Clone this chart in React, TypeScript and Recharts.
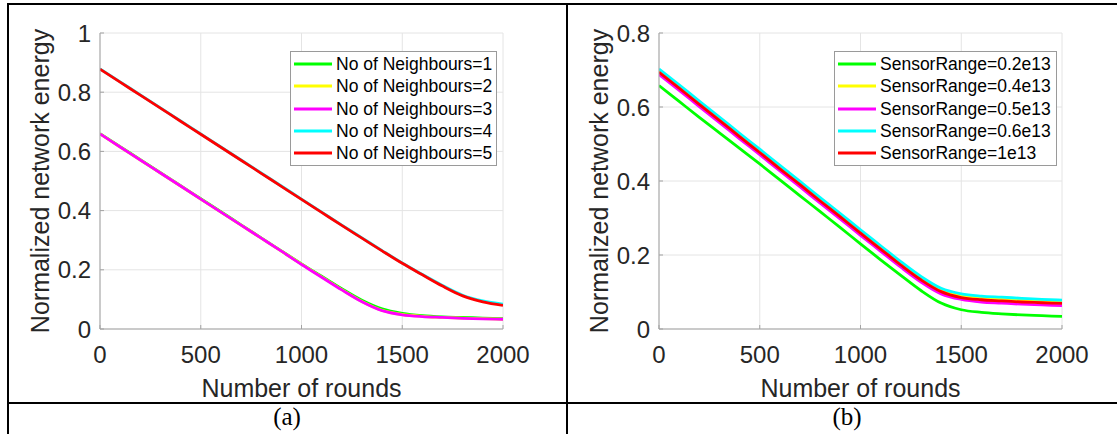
import React from 'react';
import { LineChart, Line, XAxis, YAxis, CartesianGrid, Legend } from 'recharts';

const rounds = [0, 100, 200, 300, 400, 500, 600, 700, 800, 900, 1000, 1100, 1200, 1300, 1400, 1500, 1600, 1700, 1800, 1900, 2000];
const xTicks = [0, 500, 1000, 1500, 2000];
const yTicksA = [0, 0.2, 0.4, 0.6, 0.8, 1];
const yTicksB = [0, 0.2, 0.4, 0.6, 0.8];

// Panel (a): number of neighbours
const namesA = ['No of Neighbours=1', 'No of Neighbours=2', 'No of Neighbours=3', 'No of Neighbours=4', 'No of Neighbours=5'];
const nb1 = [0.660, 0.616, 0.572, 0.528, 0.484, 0.440, 0.396, 0.352, 0.308, 0.264, 0.220, 0.178, 0.136, 0.097, 0.068, 0.053, 0.045, 0.041, 0.039, 0.037, 0.035];
const nb2 = [0.659, 0.615, 0.571, 0.527, 0.483, 0.439, 0.395, 0.351, 0.307, 0.263, 0.219, 0.176, 0.133, 0.093, 0.063, 0.049, 0.043, 0.039, 0.037, 0.035, 0.033];
const nb3 = [0.659, 0.615, 0.571, 0.527, 0.483, 0.439, 0.395, 0.351, 0.307, 0.263, 0.218, 0.175, 0.132, 0.092, 0.062, 0.048, 0.042, 0.039, 0.036, 0.034, 0.033];
const nb4 = [0.879, 0.835, 0.791, 0.747, 0.703, 0.659, 0.615, 0.571, 0.527, 0.483, 0.439, 0.395, 0.351, 0.308, 0.265, 0.223, 0.184, 0.147, 0.114, 0.095, 0.084];
const nb5 = [0.878, 0.834, 0.790, 0.746, 0.702, 0.658, 0.614, 0.570, 0.526, 0.482, 0.438, 0.394, 0.350, 0.307, 0.264, 0.222, 0.183, 0.145, 0.112, 0.092, 0.080];

// Panel (b): sensor range
const namesB = ['SensorRange=0.2e13', 'SensorRange=0.4e13', 'SensorRange=0.5e13', 'SensorRange=0.6e13', 'SensorRange=1e13'];
const sr02 = [0.658, 0.615, 0.572, 0.530, 0.488, 0.446, 0.403, 0.360, 0.317, 0.274, 0.230, 0.187, 0.145, 0.104, 0.070, 0.052, 0.045, 0.041, 0.038, 0.036, 0.034];
const sr04 = [0.699, 0.656, 0.612, 0.569, 0.525, 0.482, 0.438, 0.395, 0.351, 0.308, 0.264, 0.221, 0.178, 0.138, 0.106, 0.090, 0.084, 0.080, 0.077, 0.075, 0.073];
const sr05 = [0.688, 0.645, 0.601, 0.558, 0.514, 0.471, 0.427, 0.384, 0.340, 0.297, 0.253, 0.210, 0.167, 0.127, 0.095, 0.080, 0.073, 0.070, 0.067, 0.065, 0.063];
const sr06 = [0.703, 0.660, 0.616, 0.573, 0.529, 0.486, 0.442, 0.399, 0.355, 0.312, 0.268, 0.225, 0.182, 0.142, 0.110, 0.095, 0.089, 0.086, 0.083, 0.080, 0.078];
const sr1 = [0.694, 0.651, 0.607, 0.564, 0.520, 0.477, 0.433, 0.390, 0.346, 0.303, 0.259, 0.216, 0.173, 0.133, 0.101, 0.085, 0.079, 0.076, 0.073, 0.071, 0.069];

const colors = ['#00ff00', '#ffff00', '#ff00ff', '#00ffff', '#ff0000'];

const dataA = rounds.map((x, i) => ({ x, s1: nb1[i], s2: nb2[i], s3: nb3[i], s4: nb4[i], s5: nb5[i] }));
const dataB = rounds.map((x, i) => ({ x, s1: sr02[i], s2: sr04[i], s3: sr05[i], s4: sr06[i], s5: sr1[i] }));

const FONT = '"Liberation Sans", Arial, Helvetica, sans-serif';
const AXIS_COLOR = '#a3a3a3';
const TEXT_COLOR = '#262626';

const makeLegend = (width: number) => (props: any) => {
  const payload = props.payload || [];
  return (
    <div
      style={{
        width,
        boxSizing: 'border-box',
        border: '1px solid #9a9a9a',
        background: '#ffffff',
        padding: '1px 0 1px 0',
      }}
    >
      {payload.map((p: any, i: number) => (
        <div key={i} style={{ display: 'flex', alignItems: 'center', height: 22.3 }}>
          <svg width={38} height={4} style={{ marginLeft: 3, marginRight: 4, display: 'block' }}>
            <line x1={0} y1={2} x2={38} y2={2} stroke={p.color} strokeWidth={3} />
          </svg>
          <span style={{ fontFamily: FONT, fontSize: 17.5, color: '#000', whiteSpace: 'nowrap', lineHeight: '22px' }}>
            {p.value}
          </span>
        </div>
      ))}
    </div>
  );
};

const yTitle = (props: any) => {
  const vb = props.viewBox || { x: 0, y: 0, width: 0, height: 0 };
  const cx = vb.x + vb.width - 51;
  const cy = vb.y + vb.height / 2;
  return (
    <text
      x={cx}
      y={cy}
      transform={`rotate(-90 ${cx} ${cy})`}
      textAnchor="middle"
      fontFamily={FONT}
      fontSize={25}
      fill={TEXT_COLOR}
    >
      Normalized network energy
    </text>
  );
};

const xTitle = (props: any) => {
  const vb = props.viewBox || { x: 0, y: 0, width: 0, height: 0 };
  const cx = vb.x + vb.width / 2;
  const cy = vb.y + 68;
  return (
    <text x={cx} y={cy} textAnchor="middle" fontFamily={FONT} fontSize={25} fill={TEXT_COLOR}>
      Number of rounds
    </text>
  );
};

type PanelProps = {
  data: any[];
  names: string[];
  yMax: number;
  yTicks: number[];
  width: number;
  marginLeft: number;
  marginRight: number;
  legendLeft: number;
  legendWidth: number;
};

const Panel = ({ data, names, yMax, yTicks, width, marginLeft, marginRight, legendLeft, legendWidth }: PanelProps) => (
  <LineChart
    width={width}
    height={434}
    data={data}
    margin={{ top: 33, right: marginRight, bottom: 75, left: marginLeft }}
  >
    <CartesianGrid stroke="#e4e4e4" strokeWidth={1} />
    <XAxis
      dataKey="x"
      type="number"
      domain={[0, 2000]}
      ticks={xTicks}
      allowDataOverflow
      height={30}
      axisLine={{ stroke: AXIS_COLOR, strokeWidth: 1 }}
      tickLine={{ stroke: AXIS_COLOR }}
      tickSize={-4}
      tickMargin={21}
      tick={{ fontFamily: FONT, fontSize: 24, fill: TEXT_COLOR }}
      interval={0}
      label={xTitle}
    />
    <XAxis
      xAxisId="top"
      orientation="top"
      type="number"
      domain={[0, 2000]}
      ticks={xTicks}
      allowDataOverflow
      height={0}
      axisLine={{ stroke: AXIS_COLOR, strokeWidth: 1 }}
      tickLine={{ stroke: AXIS_COLOR }}
      tickSize={-4}
      tick={false}
      interval={0}
    />
    <YAxis
      type="number"
      domain={[0, yMax]}
      ticks={yTicks}
      allowDataOverflow
      width={60}
      axisLine={{ stroke: AXIS_COLOR, strokeWidth: 1 }}
      tickLine={{ stroke: AXIS_COLOR }}
      tickSize={-4}
      tickMargin={13}
      tick={{ fontFamily: FONT, fontSize: 24, fill: TEXT_COLOR }}
      interval={0}
      label={yTitle}
    />
    <YAxis
      yAxisId="right"
      orientation="right"
      type="number"
      domain={[0, yMax]}
      ticks={yTicks}
      allowDataOverflow
      width={0}
      axisLine={{ stroke: AXIS_COLOR, strokeWidth: 1 }}
      tickLine={{ stroke: AXIS_COLOR }}
      tickSize={-4}
      tick={false}
      interval={0}
    />
    {names.map((n, i) => (
      <Line
        key={n}
        type="monotone"
        dataKey={`s${i + 1}`}
        name={n}
        stroke={colors[i]}
        strokeWidth={2.8}
        dot={false}
        activeDot={false}
        isAnimationActive={false}
      />
    ))}
    <Legend
      layout="vertical"
      align="center"
      verticalAlign="middle"
      content={makeLegend(legendWidth)}
      wrapperStyle={{ left: legendLeft, top: 51, width: legendWidth, right: 'auto', bottom: 'auto' }}
    />
  </LineChart>
);

export default function App() {
  return (
    <div style={{ position: 'absolute', left: 0, top: 0, width: 1117, height: 434, background: '#ffffff', overflow: 'hidden' }}>
      <div style={{ position: 'absolute', left: 0, top: 0 }}>
        <Panel
          data={dataA}
          names={namesA}
          yMax={1}
          yTicks={yTicksA}
          width={560}
          marginLeft={40}
          marginRight={57}
          legendLeft={290}
          legendWidth={207}
        />
      </div>
      <div style={{ position: 'absolute', left: 568, top: 0 }}>
        <Panel
          data={dataB}
          names={namesB}
          yMax={0.8}
          yTicks={yTicksB}
          width={549}
          marginLeft={31}
          marginRight={55}
          legendLeft={266}
          legendWidth={223}
        />
      </div>
      <svg
        width={1117}
        height={434}
        style={{ position: 'absolute', left: 0, top: 0, pointerEvents: 'none' }}
      >
        <line x1={8} y1={3} x2={8} y2={434} stroke="#000" strokeWidth={2} />
        <line x1={7} y1={4} x2={1117} y2={4} stroke="#000" strokeWidth={2} />
        <line x1={567} y1={3} x2={567} y2={434} stroke="#000" strokeWidth={2} />
        <line x1={7} y1={403} x2={1117} y2={403} stroke="#000" strokeWidth={2} />
        <text x={287} y={425} textAnchor="middle" fontFamily='"Liberation Serif", "Times New Roman", serif' fontSize={25} fill="#000">
          (a)
        </text>
        <text x={847} y={425} textAnchor="middle" fontFamily='"Liberation Serif", "Times New Roman", serif' fontSize={25} fill="#000">
          (b)
        </text>
      </svg>
    </div>
  );
}
